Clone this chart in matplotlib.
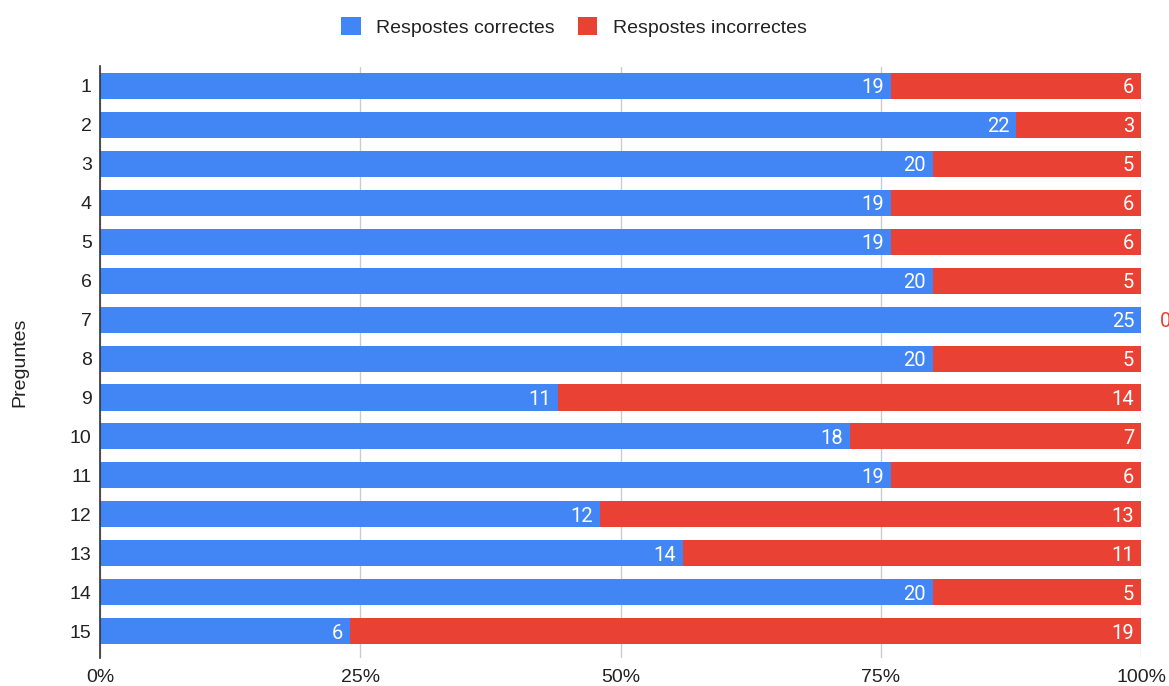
import matplotlib.pyplot as plt
from matplotlib.patches import Patch
from matplotlib.ticker import FuncFormatter

plt.rcParams['font.family'] = ['Liberation Sans', 'DejaVu Sans']

preguntes = [str(i) for i in range(1, 16)]
correctes = [19, 22, 20, 19, 19, 20, 25, 20, 11, 18, 19, 12, 14, 20, 6]
incorrectes = [6, 3, 5, 6, 6, 5, 0, 5, 14, 7, 6, 13, 11, 5, 19]

blue = '#4285f4'
red = '#e94235'
txt = '#222222'

fig = plt.figure(figsize=(11.69, 6.86), dpi=100)
ax = fig.add_axes([100 / 1169, 28 / 686, 1041 / 1169, 591.5 / 686])

totals = [c + i for c, i in zip(correctes, incorrectes)]
pct_c = [c / t for c, t in zip(correctes, totals)]
pct_i = [i / t for i, t in zip(incorrectes, totals)]
ypos = list(range(len(preguntes)))

ax.barh(ypos, pct_c, height=0.67, color=blue, zorder=2)
ax.barh(ypos, pct_i, left=pct_c, height=0.67, color=red, zorder=2)

# value labels at the inner right end of each segment
lab_font = dict(fontsize=14.5, family=['Roboto', 'DejaVu Sans'], va='center', zorder=3)
for y, pc, pi, c, i in zip(ypos, pct_c, pct_i, correctes, incorrectes):
    ty = y + 0.05
    ax.text(pc - 0.0065, ty, str(c), ha='right', color='white', **lab_font)
    if i > 0:
        ax.text(pc + pi - 0.0065, ty, str(i), ha='right', color='white', **lab_font)
    else:
        ax.text(1.018, ty, str(i), ha='left', color=red, clip_on=False, **lab_font)

ax.set_xlim(0, 1)
ax.set_ylim(len(preguntes) - 0.5 + 0.19, -0.5)
ax.set_yticks(ypos)
ax.set_yticklabels(preguntes)
ax.set_xticks([0, 0.25, 0.5, 0.75, 1.0])
ax.xaxis.set_major_formatter(FuncFormatter(lambda v, p: f'{v:.0%}'))
ax.tick_params(axis='both', length=0, labelsize=14, colors=txt, pad=6)
ax.tick_params(axis='x', pad=8)
ax.grid(axis='x', color='#cccccc', linewidth=1, zorder=0)
for side in ['top', 'right', 'bottom']:
    ax.spines[side].set_visible(False)
ax.spines['left'].set_color('#333333')
ax.spines['left'].set_linewidth(1.2)
ax.spines['left'].set_zorder(4)
ax.set_ylabel('Preguntes', fontsize=14, color=txt, labelpad=30)

legend_items = [Patch(facecolor=blue, label='Respostes correctes'),
                Patch(facecolor=red, label='Respostes incorrectes')]
fig.legend(handles=legend_items, loc='upper center', bbox_to_anchor=(0.491, 1.0),
           ncol=2, frameon=False, fontsize=14, handlelength=1.0,
           handleheight=1.0, handletextpad=0.8, columnspacing=1.2,
           labelcolor=txt)

fig.savefig('out.png', dpi=100)
